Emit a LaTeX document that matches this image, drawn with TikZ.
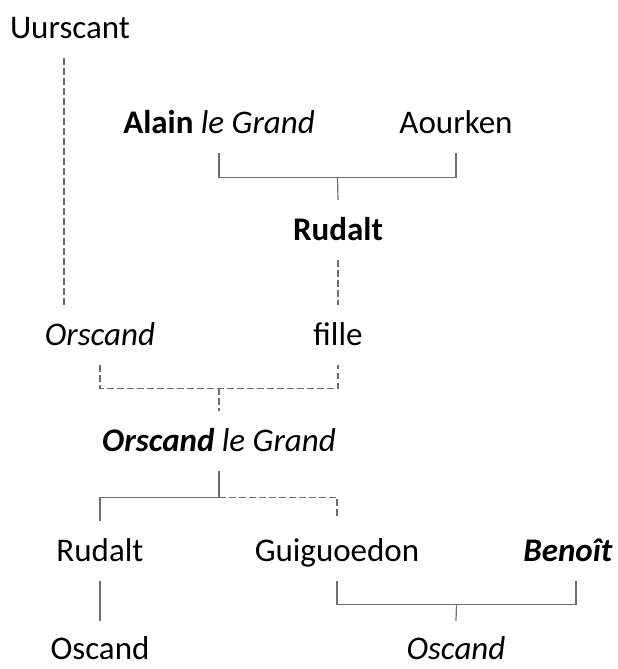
\documentclass[tikz,border=0pt]{standalone}
\usepackage{fontspec}
\setmainfont{Carlito}
\usepackage{tikz}
\usetikzlibrary{calc}
\definecolor{cLine}{HTML}{6E6E6E}
\definecolor{cText}{HTML}{000000}

\begin{document}
\begin{tikzpicture}[
  x=1pt,y=1pt,
  font=\fontsize{33}{40}\selectfont,
  person/.style={anchor=base,text=cText,inner xsep=0pt,inner ysep=10pt,text height=30pt,text depth=10pt},
  leaf/.style={person,inner ysep=3pt,text height=35pt,text depth=0pt},
  sline/.style={draw=cLine,line width=1.2pt},
  dline/.style={draw=cLine,line width=1.2pt,dash pattern=on 6.5pt off 3.5pt}
]
\useasboundingbox (0,0) rectangle (618,-669);
% generation 1
\node[person] (uurscant) at (70,-38) {Uurscant};
\node[person] (alain) at (219,-133) {\textbf{Alain} \textit{le Grand}};
\node[person] (aourken) at (456,-133) {Aourken};
% generation 2
\node[person] (rudalt) at (338,-240) {\textbf{Rudalt}};
\node[person] (orscand) at (100,-345) {\textit{Orscand}};
\node[person] (fille) at (338,-345) {fille};
% generation 3
\node[person] (orgrand) at (219,-451) {\textbf{\textit{Orscand}} \textit{le Grand}};
\node[person] (rudaltb) at (100,-561) {Rudalt};
\node[person] (guig) at (337,-561) {Guiguoedon};
\node[person] (benoit) at (568,-561) {\textbf{\textit{Benoît}}};
% generation 4
\node[leaf] (oscand) at (100,-659) {Oscand};
\node[leaf] (oscandb) at (456,-659) {\textit{Oscand}};

\coordinate (m1) at ($(alain.south)!0.5!(aourken.south)+(0,-24)$);
\coordinate (m2) at ($(orscand.south)!0.5!(fille.south)+(0,-23)$);
\coordinate (m3) at ($(orgrand.south)+(0,-26)$);
\coordinate (m4) at ($(guig.south)!0.5!([xshift=8pt]benoit.south)+(0,-23)$);

\draw[dline] ([xshift=-6pt]uurscant.south) -- ([xshift=-6pt]uurscant.south |- orscand.north);
\draw[sline] (alain.south) |- (m1) -| (aourken.south);
\draw[sline] (m1) -- (rudalt.north);
\draw[dline] (rudalt.south) -- (fille.north);
\draw[dline] (orscand.south) |- (m2) -| (fille.south);
\draw[dline] (m2) -- (orgrand.north);
\draw[sline] (orgrand.south) -- (m3) -| (rudaltb.north);
\draw[dline] (m3) -| ([yshift=4pt]guig.north);
\draw[sline] (rudaltb.south) -- (oscand.north);
\draw[sline] (guig.south) |- (m4) -| ([xshift=8pt]benoit.south);
\draw[sline] (m4) -- (oscandb.north);
\end{tikzpicture}
\end{document}
